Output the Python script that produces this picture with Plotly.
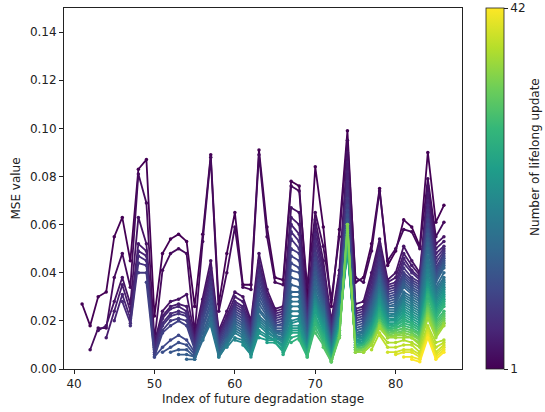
import plotly.graph_objects as go
from plotly.colors import sample_colorscale

# MSE values at each future degradation stage, one entry per lifelong update (1, 2, ...)
mse_41 = [.027]
mse_42 = [.018, .008]
mse_43 = [.030, .017, .016]
mse_44 = [.032, .017, .018, .013]
mse_45 = [.055, .038, .028, .024, .020]
mse_46 = [.063, .048, .038, .035, .031, .028]
mse_47 = [.045, .034, .027, .024, .021, .019, .018]
mse_48 = [.083, .081, .063, .052, .049, .047, .044, .040]
mse_49 = [.087, .069, .052, .049, .047, .045, .043, .040, .036]
mse_50 = [.022, .012, .011, .010, .009, .008, .007, .006, .005, .005]
mse_51 = [.048, .041, .024, .022, .021, .019, .018, .016, .015, .009, .007]
mse_52 = [.054, .048, .028, .026, .025, .023, .022, .020, .018, .012, .009, .007]
mse_53 = [.056, .050, .029, .027, .026, .024, .023, .021, .020, .014, .011, .008, .006]
mse_54 = [.053, .048, .031, .026, .024, .023, .022, .020, .018, .012, .010, .008, .006, .004]
mse_55 = [.026, .015, .014, .013, .012, .011, .010, .009, .008, .007, .006, .005, .005, .004, .004]
mse_56 = [.056, .053, .029, .027, .026, .025, .023, .022, .021, .020, .018, .017, .015, .013, .012, .012]
mse_57 = [.089, .088, .045, .042, .040, .038, .036, .034, .032, .030, .028, .026, .024, .023, .021, .019, .018]
mse_58 = [.027, .024, .016, .015, .014, .013, .013, .012, .011, .010, .009, .009, .008, .007, .006, .006, .005, .005]
mse_59 = [.048, .040, .024, .022, .021, .020, .019, .018, .017, .016, .015, .014, .013, .012, .012, .011, .010, .010, .009]
mse_60 = [.065, .059, .032, .030, .028, .027, .026, .025, .024, .023, .022, .021, .020, .019, .018, .017, .016, .015, .013, .012]
mse_61 = [.035, .034, .030, .028, .026, .025, .024, .023, .022, .021, .020, .019, .018, .017, .016, .015, .014, .013, .012, .011, .010]
mse_62 = [.035, .033, .020, .019, .018, .017, .016, .015, .014, .013, .012, .012, .011, .010, .010, .009, .008, .008, .007, .006, .006, .005]
mse_63 = [.091, .089, .048, .045, .043, .041, .039, .037, .035, .033, .031, .029, .027, .025, .024, .022, .021, .020, .019, .018, .016, .015, .013]
mse_64 = [.059, .055, .033, .031, .030, .029, .028, .027, .026, .025, .024, .023, .022, .021, .020, .019, .018, .017, .016, .015, .014, .013, .012, .011]
mse_65 = [.038, .036, .025, .024, .023, .022, .021, .020, .019, .018, .018, .017, .016, .016, .015, .015, .014, .014, .013, .013, .012, .012, .012, .011, .011]
mse_66 = [.037, .035, .026, .025, .024, .023, .022, .021, .020, .019, .018, .017, .016, .015, .015, .014, .013, .012, .012, .011, .010, .010, .009, .008, .007, .006]
mse_67 = [.078, .076, .067, .063, .060, .057, .054, .050, .047, .044, .041, .038, .035, .032, .030, .028, .026, .024, .022, .020, .019, .018, .017, .016, .015, .013, .011]
mse_68 = [.076, .074, .065, .060, .056, .053, .050, .048, .045, .042, .040, .037, .034, .032, .030, .028, .026, .024, .022, .021, .020, .018, .017, .016, .015, .014, .013, .012]
mse_69 = [.030, .034, .025, .024, .022, .021, .020, .019, .018, .017, .016, .015, .014, .013, .012, .012, .011, .010, .010, .009, .009, .008, .008, .007, .007, .006, .006, .005, .005]
mse_70 = [.084, .065, .062, .059, .056, .053, .050, .048, .046, .044, .042, .040, .038, .036, .034, .032, .031, .030, .029, .028, .027, .026, .025, .024, .022, .021, .020, .019, .017, .015]
mse_71 = [.059, .051, .045, .042, .040, .038, .036, .034, .032, .030, .029, .028, .027, .026, .025, .024, .023, .022, .021, .020, .019, .018, .017, .016, .015, .014, .013, .012, .011, .010, .009]
mse_72 = [.026, .029, .020, .019, .018, .017, .016, .015, .014, .013, .012, .012, .011, .010, .010, .009, .009, .008, .008, .007, .007, .006, .006, .005, .005, .004, .004, .004, .003, .003, .003, .003]
mse_73 = [.058, .055, .041, .039, .037, .035, .034, .033, .032, .031, .030, .029, .028, .027, .026, .025, .024, .023, .022, .021, .020, .019, .018, .018, .017, .016, .016, .015, .015, .014, .014, .013, .013]
mse_74 = [.099, .095, .090, .086, .082, .078, .074, .071, .068, .066, .064, .062, .060, .058, .056, .055, .054, .053, .052, .051, .050, .050, .049, .050, .051, .052, .053, .055, .056, .057, .058, .059, .060, .060]
mse_75 = [.036, .038, .027, .025, .024, .023, .022, .021, .020, .019, .018, .017, .016, .016, .015, .015, .014, .014, .013, .013, .012, .012, .011, .011, .010, .010, .010, .009, .009, .009, .008, .008, .008, .007, .007]
mse_76 = [.038, .036, .028, .026, .025, .024, .023, .022, .021, .020, .019, .018, .017, .017, .016, .015, .015, .014, .014, .013, .013, .012, .012, .011, .011, .010, .010, .010, .009, .009, .009, .008, .008, .008, .007, .007]
mse_77 = [.052, .049, .040, .038, .036, .034, .032, .031, .030, .029, .028, .027, .026, .025,
          .024, .023, .022, .021, .020, .019, .019, .018, .017, .017, .016, .015, .015, .014,
          .013, .013, .012, .012, .011, .011, .010, .010, .008]
mse_78 = [.075, .074, .054, .052, .050, .048, .046, .044, .042, .041, .040, .039, .038, .037,
          .035, .034, .033, .032, .031, .030, .029, .028, .027, .026, .025, .024, .023, .022,
          .021, .020, .020, .019, .019, .018, .018, .017, .015, .014]
mse_79 = [.043, .045, .037, .036, .035, .034, .033, .032, .031, .030, .029, .028, .027, .026,
          .026, .025, .024, .023, .022, .022, .021, .020, .020, .019, .018, .018, .017, .017,
          .016, .016, .015, .015, .014, .014, .013, .013, .011, .009, .007]
mse_80 = [.049, .050, .040, .038, .036, .035, .034, .033, .032, .031, .030, .029, .028, .027,
          .026, .025, .024, .023, .023, .022, .021, .021, .020, .019, .019, .018, .018, .017,
          .017, .016, .016, .015, .015, .014, .014, .013, .011, .009, .007, .006]
mse_81 = [.062, .058, .051, .048, .046, .044, .042, .040, .039, .038, .037, .036, .035, .034,
          .032, .031, .030, .029, .028, .027, .026, .025, .024, .023, .022, .021, .020, .019,
          .018, .017, .017, .016, .015, .015, .014, .013, .012, .010, .008, .007, .005]
mse_82 = [.059, .057, .045, .043, .041, .040, .038, .037, .036, .035, .034, .033, .032, .031,
          .030, .029, .028, .027, .026, .025, .024, .023, .022, .021, .020, .019, .019, .018,
          .017, .016, .016, .015, .014, .014, .013, .013, .011, .010, .008, .007, .005, .004]
mse_83 = [.051, .050, .040, .039, .038, .037, .036, .035, .034, .033, .032, .031, .030, .029,
          .028, .027, .026, .025, .024, .023, .022, .021, .020, .019, .018, .017, .017, .016,
          .015, .015, .014, .013, .013, .012, .011, .010, .009, .007, .006, .005, .004, .003]
mse_84 = [.090, .079, .076, .073, .070, .068, .066, .064, .062, .060, .058, .056, .054, .052,
          .050, .047, .045, .043, .041, .039, .037, .036, .035, .034, .033, .032, .031, .030,
          .028, .027, .026, .025, .024, .023, .022, .021, .018, .017, .016, .015, .014, .013]
mse_85 = [.061, .055, .052, .050, .048, .046, .044, .042, .041, .040, .039, .038, .037, .036,
          .034, .033, .032, .031, .030, .029, .028, .027, .026, .025, .024, .023, .022, .021,
          .020, .019, .018, .017, .016, .015, .014, .013, .011, .009, .007, .006, .005, .004]
mse_86 = [.068, .061, .055, .053, .051, .050, .049, .048, .047, .046, .045, .044, .043, .042,
          .040, .038, .037, .036, .035, .034, .033, .032, .031, .030, .029, .028, .027, .026,
          .024, .023, .022, .021, .020, .019, .019, .018, .012, .011, .010, .009, .008, .007]

stages = list(range(41, 87))
columns = [mse_41, mse_42, mse_43, mse_44, mse_45, mse_46, mse_47, mse_48, mse_49, mse_50,
           mse_51, mse_52, mse_53, mse_54, mse_55, mse_56, mse_57, mse_58, mse_59, mse_60,
           mse_61, mse_62, mse_63, mse_64, mse_65, mse_66, mse_67, mse_68, mse_69, mse_70,
           mse_71, mse_72, mse_73, mse_74, mse_75, mse_76, mse_77, mse_78, mse_79, mse_80,
           mse_81, mse_82, mse_83, mse_84, mse_85, mse_86]
n_updates = 42

for s, col in zip(stages, columns):
    assert len(col) == min(s - 40, n_updates), (s, len(col))

FONT = "DejaVu Sans"
fig = go.Figure()

for k in range(1, n_updates + 1):
    xs, ys = [], []
    for s, col in zip(stages, columns):
        if len(col) >= k:
            xs.append(s)
            ys.append(col[k - 1])
    color = sample_colorscale("Viridis", [(k - 1) / (n_updates - 1)])[0]
    fig.add_trace(go.Scatter(
        x=xs, y=ys, mode="lines+markers",
        line=dict(color=color, width=1.8),
        marker=dict(color=color, size=3.5),
        showlegend=False, hoverinfo="skip",
    ))

# colorbar carrier
fig.add_trace(go.Scatter(
    x=[None], y=[None], mode="markers", showlegend=False, hoverinfo="skip",
    marker=dict(
        color=[1], cmin=1, cmax=n_updates, colorscale="Viridis", showscale=True,
        colorbar=dict(
            x=1.06, xanchor="left", y=0.5, yanchor="middle", len=1.0, lenmode="fraction",
            ypad=0, xpad=0,
            thickness=18, thicknessmode="pixels",
            outlinewidth=0.8, outlinecolor="#222",
            tickvals=[1, n_updates], ticktext=["1", "42"],
            ticks="outside", ticklen=4, tickcolor="#222",
            tickfont=dict(family=FONT, size=12, color="#222"),
        ),
    ),
))

fig.add_annotation(
    text="Number of lifelong update", textangle=-90,
    xref="paper", yref="paper", x=1.183, y=0.587,
    xanchor="center", yanchor="middle", showarrow=False,
    font=dict(family=FONT, size=12, color="#222"),
)

axis_common = dict(
    showgrid=False, zeroline=False, showline=True, linecolor="#222", linewidth=1,
    mirror=True, ticks="outside", ticklen=4, tickcolor="#222",
    tickfont=dict(family=FONT, size=12, color="#222"),
)

fig.update_layout(
    width=545, height=412,
    margin=dict(l=64, r=83, t=8, b=43),
    paper_bgcolor="white", plot_bgcolor="white",
    font=dict(family=FONT, size=12, color="#222"),
    xaxis=dict(range=[38.75, 88.25], tickvals=[40, 50, 60, 70, 80],
               title=dict(text="Index of future degradation stage", standoff=4,
                          font=dict(family=FONT, size=12)),
               **axis_common),
    yaxis=dict(range=[0, 0.15], tickvals=[0, .02, .04, .06, .08, .10, .12, .14],
               tickformat=".2f",
               title=dict(text="MSE value", standoff=6, font=dict(family=FONT, size=12)),
               **axis_common),
)

fig.write_html("out.html")
